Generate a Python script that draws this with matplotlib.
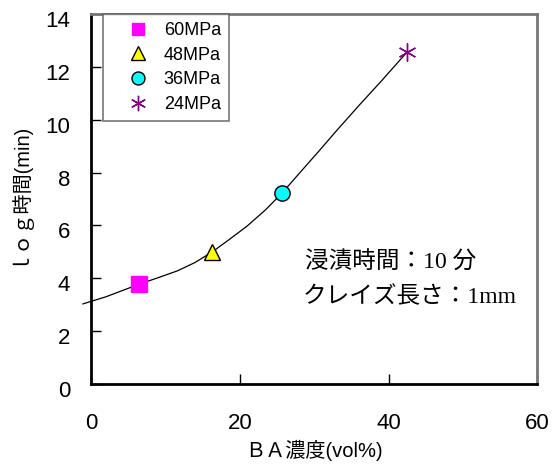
import numpy as np
import matplotlib.pyplot as plt
import matplotlib.transforms as mtransforms
from matplotlib.lines import Line2D

plt.rcParams['font.family'] = ['Liberation Sans', 'Noto Sans CJK JP']

# measured points (BA concentration vol%, log time)
labels = ['60MPa', '48MPa', '36MPa', '24MPa']
ba_conc = [6.5, 16.3, 25.7, 42.5]
log_time = [3.78, 5.0, 7.23, 12.56]

# fitted curve nodes
curve_x = [-1.1, 2.0, 6.5, 9.0, 11.6, 14.0, 16.3, 18.5, 21.0, 23.5, 25.7,
           28.0, 30.6, 33.0, 36.0, 38.9, 42.5]
curve_y = [3.03, 3.3, 3.78, 4.02, 4.28, 4.6, 5.0, 5.45, 5.98, 6.6, 7.23,
           7.97, 8.8, 9.58, 10.53, 11.42, 12.56]

xticks = [0, 20, 40, 60]
yticks = [0, 2, 4, 6, 8, 10, 12, 14]

fig = plt.figure(figsize=(5.59, 4.66), dpi=100)
ax = fig.add_axes([0.163, 0.176, 0.798, 0.794])

ax.plot(curve_x, curve_y, color='black', lw=0.9, clip_on=False, zorder=2)

styles = [
    dict(marker='s', color='#ff00ff', mec='#ff00ff', ms=11),
    dict(marker='^', color='#ffff00', mec='black', ms=12),
    dict(marker='o', color='#00ffff', mec='black', ms=11),
    dict(marker=(6, 2, 0), color='#800080', mec='#800080', ms=13),
]
handles = []
for x, y, lab, st in zip(ba_conc, log_time, labels, styles):
    ax.plot([x], [y], ls='none', marker=st['marker'], mfc=st['color'],
            mec=st['mec'], ms=st['ms'], mew=1.0, zorder=3)
    handles.append(Line2D([], [], ls='none', marker=st['marker'], mfc=st['color'],
                          mec=st['mec'], ms=st['ms'] * 0.85, mew=1.0, label=lab))

ax.set_xlim(0, 60)
ax.set_ylim(0, 14)
ax.set_xticks(xticks)
ax.set_yticks(yticks)
ax.tick_params(direction='in', length=7, width=1, labelsize=16,
               top=False, right=False)
ax.tick_params(axis='x', pad=21)
ax.tick_params(axis='y', pad=15)

# y tick labels sit a little below their ticks
shift = mtransforms.ScaledTranslation(0, -5 / 100, fig.dpi_scale_trans)
for lbl in ax.get_yticklabels():
    lbl.set_transform(lbl.get_transform() + shift)

for side in ['left', 'bottom']:
    ax.spines[side].set_linewidth(2)
    ax.spines[side].set_color('black')
for side in ['top', 'right']:
    ax.spines[side].set_linewidth(2)
    ax.spines[side].set_color('#777777')

ax.set_xlabel('ＢＡ濃度(vol%)', fontsize=14.5, labelpad=4)
ax.set_ylabel('ｌｏｇ時間(min)', fontsize=14.5, labelpad=14)
ax.yaxis.label.set_y(0.52)

leg = ax.legend(handles=handles, loc='upper left', bbox_to_anchor=(0.027, 1.0),
                fontsize=13, frameon=True, fancybox=False, borderaxespad=0,
                handlelength=3.0, handletextpad=-0.1, labelspacing=0.42,
                borderpad=0.45)
leg.get_frame().set_edgecolor('#555555')
leg.get_frame().set_linewidth(1.2)

txt_font = ['Liberation Serif', 'Noto Sans CJK JP']
ax.text(28.8, 4.6, '浸漬時間：10 分', fontsize=17, family=txt_font, va='center')
ax.text(28.4, 3.3, 'クレイズ長さ：1mm', fontsize=17, family=txt_font, va='center')

fig.savefig('out.png', dpi=100)
